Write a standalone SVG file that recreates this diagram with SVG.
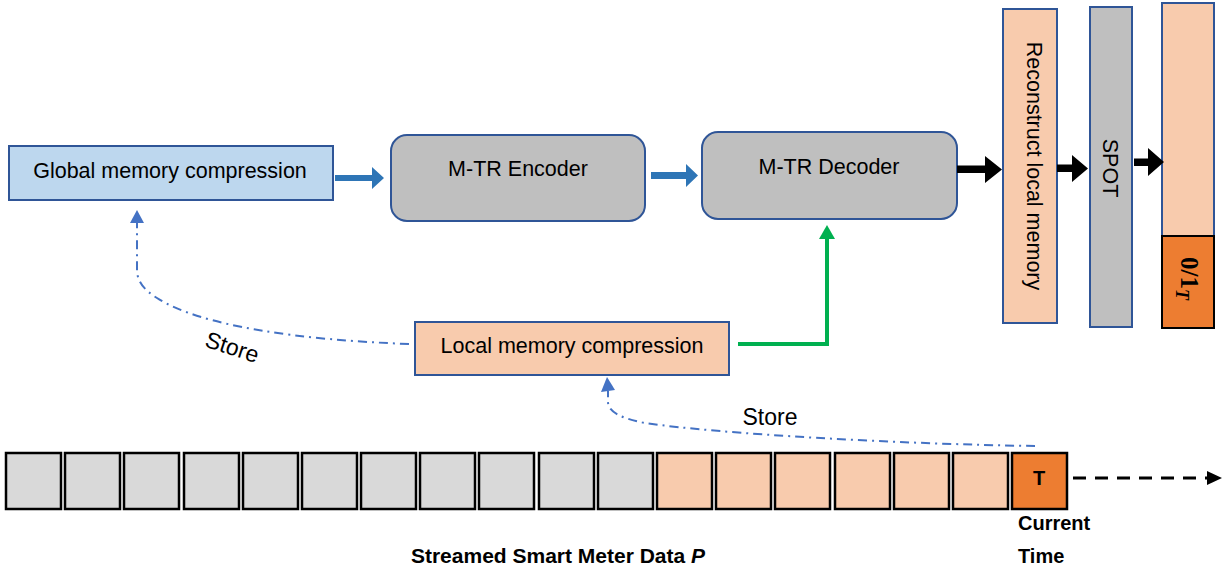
<svg xmlns="http://www.w3.org/2000/svg" width="1225" height="571" viewBox="0 0 1225 571">
<style>
.t{font-family:"Liberation Sans",Arial,sans-serif;font-size:21.5px;fill:#000}
.b{font-family:"Liberation Sans",Arial,sans-serif;font-size:20px;font-weight:bold;fill:#000}
.box{stroke:#2F5597;stroke-width:2}
.cell{stroke:#000;stroke-width:2.5}
.g{fill:#D9D9D9}.p{fill:#F8CBAD}.o{fill:#ED7D31}
.dd{fill:none;stroke:#4472C4;stroke-width:2;stroke-dasharray:9 5 2 5}
</style>
<rect width="1225" height="571" fill="#fff"/>
<g id="global-memory">
<rect class="box" x="9" y="146" width="324" height="54" fill="#BDD7EE"/>
<text class="t" x="170" y="178" text-anchor="middle">Global memory compression</text>
</g>
<g id="encoder">
<rect class="box" x="391" y="135" width="254" height="86" rx="16" fill="#BFBFBF"/>
<text class="t" x="518" y="176" text-anchor="middle">M-TR Encoder</text>
</g>
<g id="decoder">
<rect class="box" x="702" y="132" width="255" height="87" rx="16" fill="#BFBFBF"/>
<text class="t" x="829" y="174" text-anchor="middle">M-TR Decoder</text>
</g>
<g id="reconstruct">
<rect class="box" x="1003" y="9" width="54" height="314" fill="#F8CBAD"/>
<text class="t" transform="translate(1027 166) rotate(90)" text-anchor="middle">Reconstruct local memory</text>
</g>
<g id="spot">
<rect class="box" x="1090" y="7" width="42" height="320" fill="#BFBFBF"/>
<text class="t" transform="translate(1103 168) rotate(90)" text-anchor="middle">SPOT</text>
</g>
<g id="output">
<rect class="box" x="1162" y="3" width="52" height="233" fill="#F8CBAD"/>
<rect x="1162" y="236" width="52" height="92" fill="#ED7D31" stroke="#000" stroke-width="2"/>
<text transform="translate(1181 257) rotate(90)" font-family="'Liberation Serif',serif" font-size="25" font-weight="bold">0/1<tspan font-style="italic" font-size="18" dy="5">T</tspan></text>
</g>
<g id="local-memory">
<rect class="box" x="415" y="322" width="314" height="53" fill="#F8CBAD"/>
<text class="t" x="572" y="353" text-anchor="middle">Local memory compression</text>
</g>
<g id="stream">
<rect class="cell g" x="6" y="453" width="55" height="56"/>
<rect class="cell g" x="65" y="453" width="55" height="56"/>
<rect class="cell g" x="124" y="453" width="55" height="56"/>
<rect class="cell g" x="184" y="453" width="55" height="56"/>
<rect class="cell g" x="243" y="453" width="55" height="56"/>
<rect class="cell g" x="302" y="453" width="55" height="56"/>
<rect class="cell g" x="361" y="453" width="55" height="56"/>
<rect class="cell g" x="420" y="453" width="55" height="56"/>
<rect class="cell g" x="479" y="453" width="55" height="56"/>
<rect class="cell g" x="539" y="453" width="55" height="56"/>
<rect class="cell g" x="598" y="453" width="55" height="56"/>
<rect class="cell p" x="657" y="453" width="55" height="56"/>
<rect class="cell p" x="716" y="453" width="55" height="56"/>
<rect class="cell p" x="775" y="453" width="55" height="56"/>
<rect class="cell p" x="835" y="453" width="55" height="56"/>
<rect class="cell p" x="894" y="453" width="55" height="56"/>
<rect class="cell p" x="953" y="453" width="55" height="56"/>
<rect class="cell o" x="1012" y="453" width="55" height="56"/>
<text class="b" x="1039" y="485" text-anchor="middle">T</text>
</g>
<g id="labels">
<text class="b" x="1018" y="530">Current</text>
<text class="b" x="1018" y="563">Time</text>
<text class="b" x="558" y="563" text-anchor="middle" style="font-size:21px">Streamed Smart Meter Data <tspan font-style="italic">P</tspan></text>
<text class="t" x="770" y="425" text-anchor="middle" style="font-size:23px">Store</text>
<text class="t" x="232" y="355" text-anchor="middle" style="font-size:23px" transform="rotate(18 232 348)">Store</text>
</g>
<g id="connectors">
<polygon fill="#2E75B6" points="335,175 372,175 372,167 384,178 372,189 372,181 335,181"/>
<polygon fill="#2E75B6" points="651,172 686,172 686,164 698,175.5 686,187 686,179 651,179"/>
<polygon fill="#000" points="957,165.5 985,165.5 985,156 1002,169.5 985,183 985,173 957,173"/>
<polygon fill="#000" points="1057,164.5 1072,164.5 1072,155 1088,168.5 1072,182 1072,172 1057,172"/>
<polygon fill="#000" points="1134,158.5 1148,158.5 1148,148 1164,162 1148,176 1148,166 1134,166"/>
<polyline points="738,344 827,344 827,238" fill="none" stroke="#00B050" stroke-width="4"/>
<polygon fill="#00B050" points="819,239 835,239 827,225"/>
<path class="dd" d="M409,344 C300,340 200,326 157,298 Q137,286 137,270 L137,223"/>
<polygon fill="#4472C4" points="130,223 144,223 137,210"/>
<path class="dd" d="M1035,446 C900,444 720,434 645,423 Q608,416 608,402 L608,391"/>
<polygon fill="#4472C4" points="601,392 615,390 607,377"/>
<line x1="1073" y1="478" x2="1208" y2="478" stroke="#000" stroke-width="3" stroke-dasharray="13 9"/>
<polygon fill="#000" points="1207,471 1222,478 1207,485"/>
</g>
</svg>
